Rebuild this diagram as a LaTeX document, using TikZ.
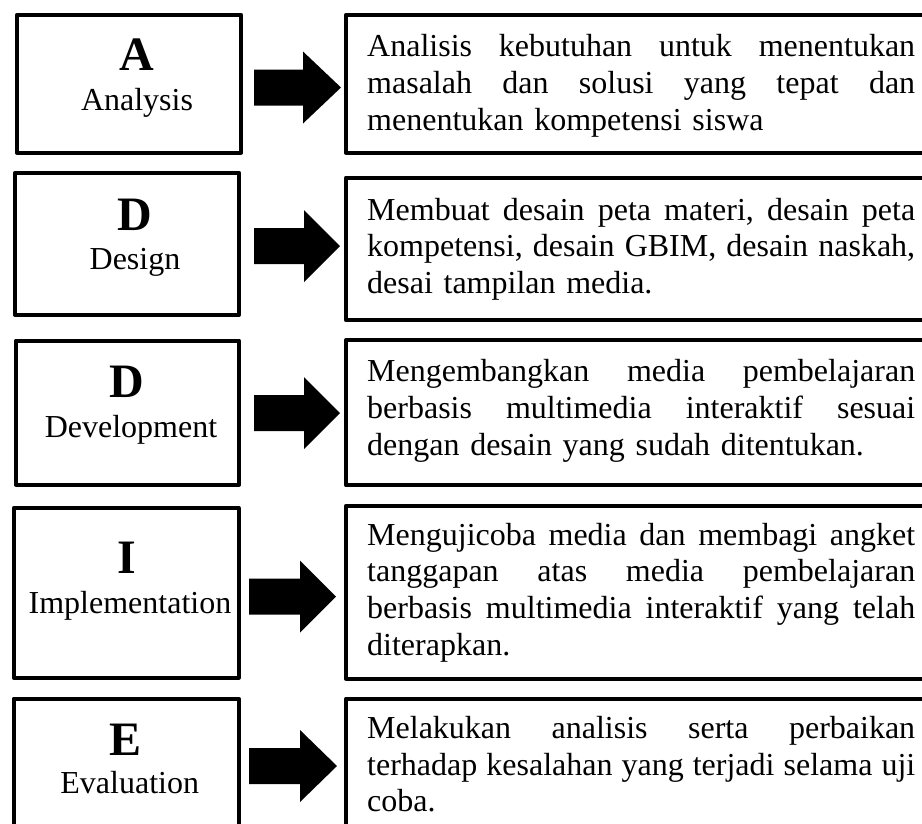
\documentclass[tikz,border=0pt]{standalone}
\usepackage{fontspec}
\setmainfont{Liberation Serif}
\tikzset{
  frame/.style={draw=black, line width=4pt, line join=round, rectangle, inner sep=0pt},
  blockarrow/.style={fill=black},
  letter/.style={font=\fontsize{48}{52}\selectfont\bfseries, anchor=base, inner sep=0pt},
  word/.style={font=\fontsize{32}{36}\selectfont, anchor=base, inner sep=0pt},
  desc/.style={font=\fontsize{32}{36.6}\selectfont, anchor=north west, inner sep=0pt, text width=548pt, align=left},
}
\newcommand{\fatarrow}[4]{%
  \fill[blockarrow] (#1,#4-18) -- (#2,#4-18) -- (#2,#4-36) -- (#3,#4) -- (#2,#4+36) -- (#2,#4+18) -- (#1,#4+18) -- cycle;}
\newcommand{\jl}[1]{\leavevmode\makebox[548pt][s]{#1}}
\begin{document}
\begin{tikzpicture}[x=1pt,y=-1pt]
\useasboundingbox (0,0) rectangle (922,823);
\clip (0,0) rectangle (922,823);
\fill[white] (0,0) rectangle (922,823);

% left boxes
\node[frame, minimum width=224pt, minimum height=138pt] (L1) at (129,83.7) {};
\node[frame, minimum width=223.7pt, minimum height=142.3pt] (L2) at (127.15,243.85) {};
\node[frame, minimum width=223pt, minimum height=144.2pt] (L3) at (127.5,412.6) {};
\node[frame, minimum width=225pt, minimum height=169.7pt] (L4) at (126.2,592.85) {};
\node[frame, minimum width=225pt, minimum height=141.3pt] (L5) at (126.2,769.35) {};

% right boxes
\node[frame, minimum width=584pt, minimum height=138pt] (R1) at (638,83.7) {};
\node[frame, minimum width=584pt, minimum height=142.8pt] (R2) at (638,248.9) {};
\node[frame, minimum width=584pt, minimum height=145pt] (R3) at (638,412.8) {};
\node[frame, minimum width=584pt, minimum height=173pt] (R4) at (638,592.2) {};
\node[frame, minimum width=584pt, minimum height=141.3pt] (R5) at (638,769.35) {};

% labels
\node[letter] (l1) at (136.5,70) {A};
\node[word] (w1) at (137,110) {Analysis};
\node[letter] (l2) at (134.5,230) {D};
\node[word] (w2) at (135,269) {Design};
\node[letter] (l3) at (127,397) {D};
\node[word] (w3) at (131,437) {Development};
\node[letter] (l4) at (126.7,573) {I};
\node[word] (w4) at (130,613) {Implementation};
\node[letter] (l5) at (126,755) {E};
\node[word] (w5) at (129.7,793) {Evaluation};

% arrows
\fatarrow{254}{303}{341}{87.5}
\fatarrow{254}{304}{340}{246}
\fatarrow{254}{304}{340}{413}
\fatarrow{249}{300}{336}{596.5}
\fatarrow{249}{300}{337}{766}

% descriptions
\node[desc] (d1) at (367,56.7-25.62) {\strut\jl{Analisis\hfill kebutuhan\hfill untuk\hfill menentukan}\\\jl{masalah\hfill dan\hfill solusi\hfill yang\hfill tepat\hfill dan}\\menentukan kompetensi siswa};
\node[desc] (d2) at (367,220-25.62) {\strut\jl{Membuat\hfill desain\hfill peta\hfill materi,\hfill desain\hfill peta}\\\jl{kompetensi,\hfill desain\hfill GBIM,\hfill desain\hfill naskah,}\\desai tampilan media.};
\node[desc] (d3) at (367,381.7-25.62) {\strut\jl{Mengembangkan\hfill media\hfill pembelajaran}\\\jl{berbasis\hfill multimedia\hfill interaktif\hfill sesuai}\\dengan desain yang sudah ditentukan.};
\node[desc] (d4) at (367,545-25.62) {\strut\jl{Mengujicoba\hfill media\hfill dan\hfill membagi\hfill angket}\\\jl{tanggapan\hfill atas\hfill media\hfill pembelajaran}\\\jl{berbasis\hfill multimedia\hfill interaktif\hfill yang\hfill telah}\\diterapkan.};
\node[desc] (d5) at (367,738.3-25.62) {\strut\jl{Melakukan\hfill analisis\hfill serta\hfill perbaikan}\\\jl{terhadap\hfill kesalahan\hfill yang\hfill terjadi\hfill selama\hfill uji}\\coba.};
\end{tikzpicture}
\end{document}
